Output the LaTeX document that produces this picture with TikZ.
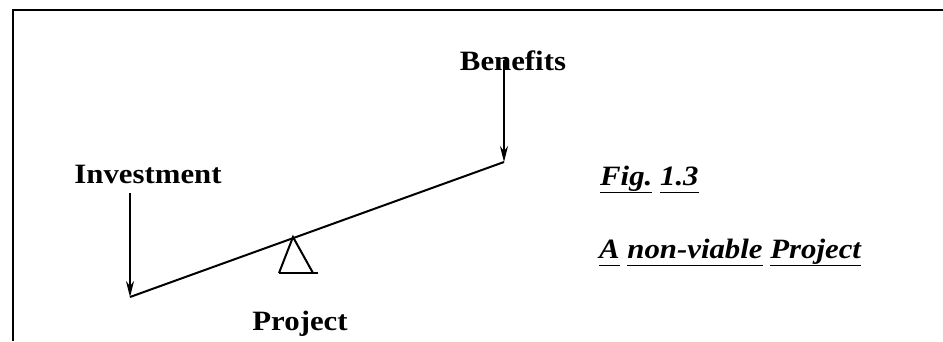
\documentclass[tikz,border=0pt]{standalone}
\usepackage{fontspec}
\setmainfont{Liberation Serif}[FakeStretch=1.1]
\usetikzlibrary{arrows.meta}
\tikzstyle{wordb}=[font=\fontsize{28}{32}\selectfont\bfseries,anchor=base,inner sep=0pt]
\tikzstyle{wordi}=[font=\fontsize{28}{32}\selectfont\bfseries\itshape,anchor=base west,inner sep=0pt]
\tikzstyle{force}=[-{Stealth[length=16pt,width=8pt]},line width=1.9pt]
\tikzstyle{beam}=[line width=2pt]
\newcommand{\ulword}[1]{\underline{#1\vphantom{gj}}}

\begin{document}
\begin{tikzpicture}[x=1pt,y=-1pt]
    \useasboundingbox (0,0) rectangle (943,341);
    \draw[line width=2.6pt] (13,341) -- (13,10) -- (943,10);

    \node[wordb] (ben) at (513,70)  {Benefits};
    \node[wordb] (inv) at (148,183) {Investment};
    \node[wordb] (prj) at (300,330) {Project};
    \node[wordi] (fig) at (600,185) {\ulword{Fig.} \ulword{1.3}};
    \node[wordi] (ttl) at (599,258) {\ulword{A} \ulword{non-viable} \ulword{Project}};

    \coordinate (bl) at (130,297);
    \coordinate (br) at (504,162);
    \coordinate (ia) at (130,193);
    \coordinate (ba) at (504,60);
    \coordinate (ft) at (293,237);
    \coordinate (fl) at (279,273);
    \coordinate (fr) at (313,273);
    \coordinate (fe) at (318,273);

    \draw[beam] (bl) -- (br);
    \draw[force] (ia) -- (bl);
    \draw[force] (ba) -- (br);
    \draw[beam] (fl) -- (ft) -- (fr);
    \draw[beam] (fl) -- (fe);
\end{tikzpicture}
\end{document}
